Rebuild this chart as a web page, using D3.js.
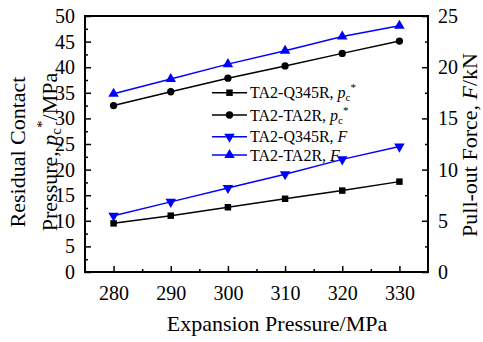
<!DOCTYPE html>
<html>
<head>
<meta charset="utf-8">
<script src="https://cdn.jsdelivr.net/npm/d3@7"></script>
<style>
  body { margin: 0; background: #fff; }
  svg { display: block; font-family: "Liberation Serif", "Times New Roman", serif; }
</style>
</head>
<body>
<svg id="chart" width="483" height="342"></svg>
<script>
"use strict";

// Data
const pressures = [280, 290, 300, 310, 320, 330];
const pcQ345R = [9.5, 11.0, 12.65, 14.3, 15.9, 17.65];
const pcTA2R = [32.5, 35.2, 37.85, 40.25, 42.7, 45.1];
const forceQ345R = [5.5, 6.85, 8.2, 9.55, 11.0, 12.25];
const forceTA2R = [17.4, 18.85, 20.3, 21.6, 23.0, 24.05];

const xTicks = [280, 290, 300, 310, 320, 330];
const leftTicks = [0, 5, 10, 15, 20, 25, 30, 35, 40, 45, 50];
const rightTicks = [0, 5, 10, 15, 20, 25];

const svg = d3.select('#chart');
const plotLeft = 85, plotRight = 428, plotTop = 16, plotBottom = 272;

const x = d3.scaleLinear().domain([275, 335]).range([plotLeft, plotRight]);
const yLeft = d3.scaleLinear().domain([0, 50]).range([plotBottom, plotTop]);
const yRight = d3.scaleLinear().domain([0, 25]).range([plotBottom, plotTop]);

// axes with inward ticks
const xAxis = d3.axisBottom(x).tickValues(xTicks).tickSize(-6).tickPadding(14).tickSizeOuter(0);
const xMinor = d3.axisBottom(x).tickValues(d3.range(285, 335, 10)).tickSize(-3).tickFormat('').tickSizeOuter(0);
const lAxis = d3.axisLeft(yLeft).tickValues(leftTicks).tickSize(-6).tickPadding(10).tickSizeOuter(0);
const lMinor = d3.axisLeft(yLeft).tickValues(d3.range(2.5, 50, 5)).tickSize(-3).tickFormat('').tickSizeOuter(0);
const rAxis = d3.axisRight(yRight).tickValues(rightTicks).tickSize(-6).tickPadding(10).tickSizeOuter(0);
const rMinor = d3.axisRight(yRight).tickValues(d3.range(2.5, 25, 5)).tickSize(-3).tickFormat('').tickSizeOuter(0);

const styleAxis = g => {
    g.selectAll('path').remove();
    g.selectAll('line').attr('stroke', '#000').attr('stroke-width', 1.5);
    g.selectAll('text').attr('font-size', '20px').attr('fill', '#000')
        .attr('font-family', '"Liberation Serif", "Times New Roman", serif');
};

svg.append('g').attr('transform', `translate(0,${plotBottom})`).call(xAxis).call(styleAxis);
svg.append('g').attr('transform', `translate(0,${plotBottom})`).call(xMinor).call(styleAxis);
svg.append('g').attr('transform', `translate(${plotLeft},0)`).call(lAxis).call(styleAxis);
svg.append('g').attr('transform', `translate(${plotLeft},0)`).call(lMinor).call(styleAxis);
svg.append('g').attr('transform', `translate(${plotRight},0)`).call(rAxis).call(styleAxis);
svg.append('g').attr('transform', `translate(${plotRight},0)`).call(rMinor).call(styleAxis);

// frame
svg.append('rect')
    .attr('x', plotLeft).attr('y', plotTop)
    .attr('width', plotRight - plotLeft).attr('height', plotBottom - plotTop)
    .attr('fill', 'none').attr('stroke', '#000').attr('stroke-width', 2);

const series = [
    { name: 'TA2-Q345R', sym: 'pc', values: pcQ345R, scale: yLeft, color: '#000', marker: d3.symbolSquare, rot: 0, size: 42 },
    { name: 'TA2-TA2R', sym: 'pc', values: pcTA2R, scale: yLeft, color: '#000', marker: d3.symbolCircle, rot: 0, size: 42 },
    { name: 'TA2-Q345R', sym: 'F', values: forceQ345R, scale: yRight, color: '#0000ff', marker: d3.symbolTriangle, rot: 180, size: 48 },
    { name: 'TA2-TA2R', sym: 'F', values: forceTA2R, scale: yRight, color: '#0000ff', marker: d3.symbolTriangle, rot: 0, size: 48 }
];

const line = scale => d3.line().x((d, i) => x(pressures[i])).y(d => scale(d));

series.forEach(s => {
    svg.append('path')
        .datum(s.values)
        .attr('d', line(s.scale))
        .attr('fill', 'none')
        .attr('stroke', s.color)
        .attr('stroke-width', 1.5);

    svg.selectAll(null)
        .data(s.values)
        .enter()
        .append('path')
        .attr('d', d3.symbol().type(s.marker).size(s.size))
        .attr('transform', (d, i) => `translate(${x(pressures[i])},${s.scale(d)}) rotate(${s.rot})`)
        .attr('fill', s.color);
});

// legend
const legendRows = [92.7, 115, 136.7, 155];
const legend = svg.append('g');
series.forEach((s, i) => {
    const g = legend.append('g').attr('transform', `translate(212,${legendRows[i]})`);
    g.append('line').attr('x1', 0).attr('x2', 35).attr('stroke', s.color).attr('stroke-width', 1.5);
    g.append('path')
        .attr('d', d3.symbol().type(s.marker).size(s.size))
        .attr('transform', `translate(17.5,0) rotate(${s.rot})`)
        .attr('fill', s.color);
    const t = g.append('text').attr('x', 38).attr('y', 5.5).attr('font-size', '16px');
    t.append('tspan').text(s.name + ', ');
    if (s.sym === 'pc') {
        t.append('tspan').attr('font-style', 'italic').text('p');
        t.append('tspan').attr('font-size', '11px').attr('dy', 3).text('c');
        t.append('tspan').attr('font-size', '11px').attr('dy', -10).text('*');
    } else {
        t.append('tspan').attr('font-style', 'italic').text('F');
    }
});

// axis titles
svg.append('text')
    .attr('x', 277).attr('y', 331)
    .attr('text-anchor', 'middle')
    .attr('font-size', '22px')
    .text('Expansion Pressure/MPa');

const yTitle = svg.append('text')
    .attr('transform', 'translate(25,152) rotate(-90)')
    .attr('text-anchor', 'middle')
    .attr('font-size', '22px');
yTitle.append('tspan').attr('x', 0).attr('y', 0).text('Residual Contact');
const l2 = yTitle.append('tspan').attr('x', 0).attr('y', 32);
l2.append('tspan').text('Pressure, ');
l2.append('tspan').attr('font-style', 'italic').text('p');
l2.append('tspan').attr('font-size', '15px').attr('dy', 4).text('c');
l2.append('tspan').attr('font-size', '15px').attr('dy', -14).text('*');
l2.append('tspan').attr('dy', 10).text('/MPa');

const rTitle = svg.append('text')
    .attr('transform', 'translate(477,145) rotate(-90)')
    .attr('text-anchor', 'middle')
    .attr('font-size', '22px');
rTitle.append('tspan').text('Pull-out Force, ');
rTitle.append('tspan').attr('font-style', 'italic').text('F');
rTitle.append('tspan').text('/kN');
</script>
</body>
</html>
